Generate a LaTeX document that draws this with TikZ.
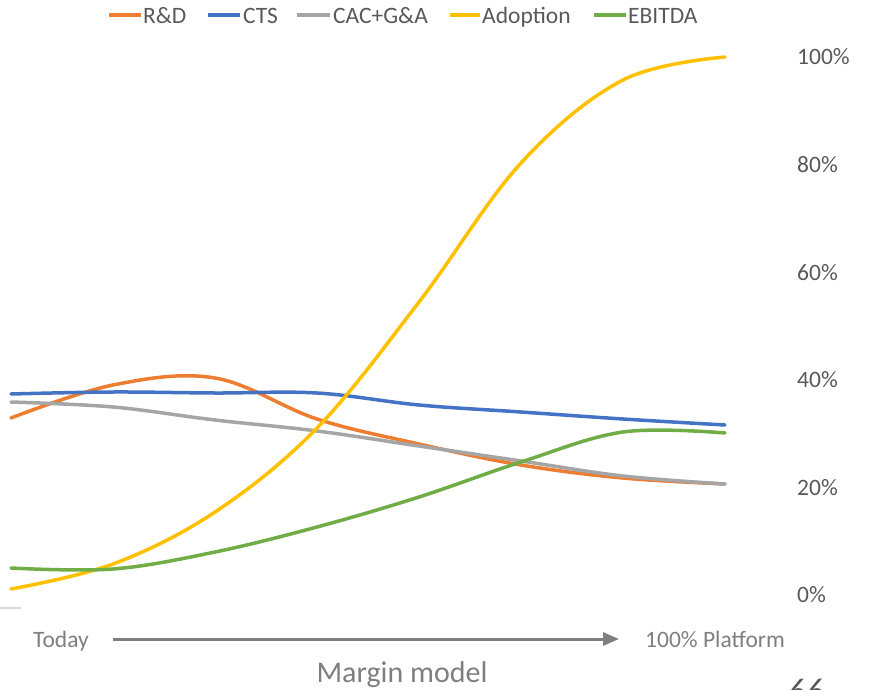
\documentclass[tikz,border=0pt]{standalone}
\usepackage{fontspec}
\setmainfont{Carlito}
\usetikzlibrary{arrows.meta}
\definecolor{rdC}{HTML}{ED7D31}
\definecolor{ctsC}{HTML}{4472C4}
\definecolor{cacC}{HTML}{A5A5A5}
\definecolor{adoC}{HTML}{FFC000}
\definecolor{ebiC}{HTML}{70AD47}
\definecolor{txtC}{HTML}{595959}
\definecolor{subC}{HTML}{7F7F7F}
\definecolor{axisC}{HTML}{D9D9D9}
\begin{document}
\begin{tikzpicture}[x=1pt,y=-1pt,
  series/.style={line width=3.5pt, line cap=round, line join=round},
  legline/.style={line width=3.5pt},
  legtext/.style={anchor=base west, inner sep=0pt, text=txtC, font=\fontsize{23.5}{28}\selectfont},
  ticklab/.style={anchor=base west, inner sep=0pt, text=txtC, font=\fontsize{23.5}{28}\selectfont},
  axlab/.style={anchor=base west, inner sep=0pt, text=subC, font=\fontsize{23.5}{28}\selectfont},
  curve/.style={smooth, tension=0.6}]
\useasboundingbox (0,0) rectangle (870,690);
\clip (0,0) rectangle (870,690);

% legend
\draw[legline, rdC]  (109,15) -- (141,15);
\node[legtext] (lrd) at (143,23.5) {R\&D};
\draw[legline, ctsC] (208,15) -- (240,15);
\node[legtext] (lcts) at (243,23.5) {CTS};
\draw[legline, cacC] (297,15) -- (330,15);
\node[legtext] (lcac) at (333,23.5) {CAC+G\&A};
\draw[legline, adoC] (450,15) -- (480,15);
\node[legtext] (lado) at (482,23.5) {Adoption};
\draw[legline, ebiC] (594,15) -- (626,15);
\node[legtext] (lebi) at (628,23.5) {EBITDA};

% tick labels (secondary axis)
\node[ticklab] (t100) at (797,65)  {100\%};
\node[ticklab] (t80)  at (797,172) {80\%};
\node[ticklab] (t60)  at (797,280) {60\%};
\node[ticklab] (t40)  at (797,387) {40\%};
\node[ticklab] (t20)  at (797,495) {20\%};
\node[ticklab] (t0)   at (797,602) {0\%};

% axis remnant
\draw[axisC, line width=2pt] (0,608) -- (21,608);

% series
\draw[series, rdC] plot[curve] coordinates {(11,418) (113,385) (215,378) (317,419) (419,444) (521,465) (623,478) (725,484)};
\draw[series, ctsC] plot[curve] coordinates {(11,394) (113,392) (215,393) (317,393) (419,405) (521,412) (623,419) (725,425)};
\draw[series, cacC] plot[curve] coordinates {(11,402) (113,407) (215,420) (317,431) (419,446) (521,461) (623,476) (725,484)};
\draw[series, adoC] plot[curve] coordinates {(11,589) (113,564) (215,512) (317,428) (419,302) (521,163) (623,80) (725,57)};
\draw[series, ebiC] plot[curve] coordinates {(11,568) (113,569) (215,552) (317,527) (419,497) (521,462) (623,432) (725,433)};

% bottom axis labels
\node[axlab] (today) at (33,647) {Today};
\node[axlab] (platform) at (645,647) {100\% Platform};
\coordinate (arrS) at (113,639);
\coordinate (arrE) at (619,639);
\draw[subC, line width=3pt, -{Triangle[length=16pt,width=13pt]}] (arrS) -- (arrE);

\node[anchor=base, inner sep=0pt, text=subC, font=\fontsize{30}{36}\selectfont] (title) at (402,682) {Margin model};
\node[anchor=base west, inner sep=0pt, text=txtC, font=\fontsize{36}{40}\selectfont\itshape] (pg) at (787,703) {66};
\end{tikzpicture}
\end{document}
